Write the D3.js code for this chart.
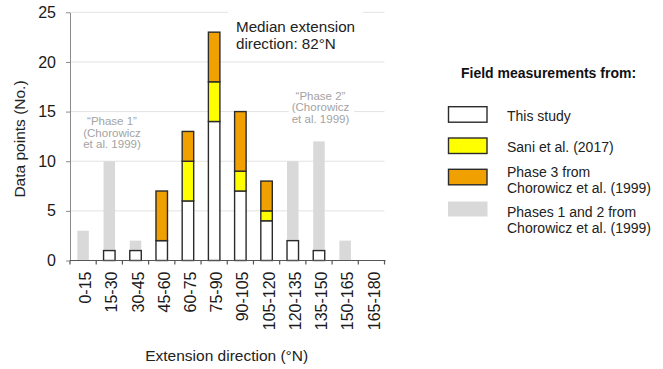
<!DOCTYPE html>
<html>
<head>
<meta charset="utf-8">
<script src="https://cdnjs.cloudflare.com/ajax/libs/d3/7.8.5/d3.min.js"></script>
<style>
  body { margin: 0; background: #fff; }
  svg { display: block; font-family: "Liberation Sans", Arial, sans-serif; }
</style>
</head>
<body>
<div id="chart"></div>
<script>
var categories = ["0-15", "15-30", "30-45", "45-60", "60-75", "75-90", "90-105",
                  "105-120", "120-135", "135-150", "150-165", "165-180"];
var thisStudy = [0, 1, 1, 2, 6, 14, 7, 4, 2, 1, 0, 0];
var sani2017  = [0, 0, 0, 0, 4, 4, 2, 1, 0, 0, 0, 0];
var phase3    = [0, 0, 0, 5, 3, 5, 6, 3, 0, 0, 0, 0];
var phases12  = [3, 10, 2, 0, 0, 0, 0, 0, 10, 12, 2, 0];
var yTicks = [0, 5, 10, 15, 20, 25];

var width = 663, height = 369;
var plotLeft = 70, plotRight = 384.5, plotTop = 12.3, plotBottom = 260.5;

var svg = d3.select("#chart").append("svg")
    .attr("width", width)
    .attr("height", height);

svg.append("rect").attr("width", width).attr("height", height).attr("fill", "#fff");

var x = d3.scaleBand().domain(categories).range([plotLeft, plotRight]).padding(0);
var y = d3.scaleLinear().domain([0, 25]).range([plotBottom, plotTop]);
var barW = 11.5;

// grid
svg.append("g").selectAll("line")
    .data(yTicks.filter(function(d){ return d > 0; }))
    .enter().append("line")
    .attr("x1", plotLeft).attr("x2", plotRight)
    .attr("y1", function(d){ return y(d); })
    .attr("y2", function(d){ return y(d); })
    .style("stroke", "#e3e3e3")
    .style("stroke-width", 1);

// white boxes behind annotations
svg.append("rect").attr("x", 228).attr("y", 8).attr("width", 135).attr("height", 48).attr("fill", "#fff");
svg.append("rect").attr("x", 289).attr("y", 90).attr("width", 65).attr("height", 37).attr("fill", "#fff");

// grey phases 1 and 2 bars (behind)
svg.append("g").selectAll("rect")
    .data(categories.map(function(c, i){ return {cat: c, v: phases12[i]}; }).filter(function(d){ return d.v > 0; }))
    .enter().append("rect")
    .attr("x", function(d){ return x(d.cat) + x.bandwidth() / 2 - barW / 2; })
    .attr("y", function(d){ return y(d.v); })
    .attr("width", barW)
    .attr("height", function(d){ return y(0) - y(d.v); })
    .style("fill", "#d9d9d9");

// stacked bars
var rows = categories.map(function(c, i){
	return {cat: c, study: thisStudy[i], sani: sani2017[i], p3: phase3[i]};
});
var keys = ["study", "sani", "p3"];
var colors = {study: "#ffffff", sani: "#ffff00", p3: "#f0a000"};
var stacked = d3.stack().keys(keys)(rows);

stacked.forEach(function(layer){
	svg.append("g").selectAll("rect")
		.data(layer.filter(function(d){ return d[1] - d[0] > 0; }))
		.enter().append("rect")
		.attr("x", function(d){ return x(d.data.cat) + x.bandwidth() / 2 - barW / 2; })
		.attr("y", function(d){ return y(d[1]); })
		.attr("width", barW)
		.attr("height", function(d){ return y(d[0]) - y(d[1]); })
		.style("fill", colors[layer.key])
		.style("stroke", "#2b2b2b")
		.style("stroke-width", 1.4);
});

// y axis
var yAxis = svg.append("g")
    .attr("transform", "translate(" + plotLeft + ",0)")
    .call(d3.axisLeft(y).tickValues(yTicks).tickSize(4).tickSizeOuter(0).tickPadding(10));
yAxis.select(".domain").style("stroke", "#8a8a8a");
yAxis.selectAll(".tick line").style("stroke", "#8a8a8a");
yAxis.selectAll("text")
    .style("font-size", "16px")
    .style("fill", "#1a1a1a")
    .style("font-family", "'Liberation Sans', Arial, sans-serif");

// x axis
var xAxis = svg.append("g");
xAxis.append("line")
    .attr("x1", plotLeft).attr("x2", plotRight + 1)
    .attr("y1", plotBottom).attr("y2", plotBottom)
    .style("stroke", "#555").style("stroke-width", 1.2);
var bounds = categories.map(function(c){ return x(c); }).concat([x(categories[categories.length - 1]) + x.bandwidth()]);
xAxis.selectAll("line.tk")
    .data(bounds).enter().append("line")
    .attr("class", "tk")
    .attr("x1", function(d){ return d; }).attr("x2", function(d){ return d; })
    .attr("y1", plotBottom).attr("y2", plotBottom + 4)
    .style("stroke", "#555").style("stroke-width", 1.2);
xAxis.selectAll("text")
    .data(categories).enter().append("text")
    .attr("transform", function(d){
    	return "translate(" + (x(d) + x.bandwidth() / 2 + 2.5) + "," + (plotBottom + 11) + ") rotate(-90)";
    })
    .attr("text-anchor", "end")
    .attr("dy", "0.35em")
    .style("font-size", "16px")
    .style("fill", "#1a1a1a")
    .text(function(d){ return d; });

// axis titles
svg.append("text")
    .attr("x", 226.7).attr("y", 361)
    .attr("text-anchor", "middle")
    .style("font-size", "15.5px")
    .style("fill", "#222")
    .text("Extension direction (\u00B0N)");

svg.append("text")
    .attr("transform", "translate(25,139) rotate(-90)")
    .attr("text-anchor", "middle")
    .style("font-size", "15.5px")
    .style("fill", "#222")
    .text("Data points (No.)");

// median annotation
svg.append("text").attr("x", 236).attr("y", 32.3)
    .style("font-size", "15.2px").style("fill", "#222").text("Median extension");
svg.append("text").attr("x", 236).attr("y", 49.3)
    .style("font-size", "15.2px").style("fill", "#222").text("direction: 82\u00B0N");

// phase annotations
function phaseNote(cx, y0, label){
	var lines = ["\u201C" + label + "\u201D", "(Chorowicz", "et al. 1999)"];
	lines.forEach(function(t, i){
		svg.append("text")
			.attr("x", cx).attr("y", y0 + i * 11.7)
			.attr("text-anchor", "middle")
			.style("font-size", "11.5px")
			.style("fill", "#a3a3a3")
			.text(t);
	});
}
phaseNote(112, 125, "Phase 1");
phaseNote(320.5, 99.5, "Phase 2");

// legend
svg.append("text").attr("x", 461).attr("y", 78)
    .style("font-size", "14px").style("font-weight", "bold").style("fill", "#111")
    .text("Field measurements from:");

var legendItems = [
	{fill: "#ffffff", stroke: true, y: 106.7, lines: ["This study"], ty: 121},
	{fill: "#ffff00", stroke: true, y: 138, lines: ["Sani et al. (2017)"], ty: 151.5},
	{fill: "#f0a000", stroke: true, y: 169.3, lines: ["Phase 3 from", "Chorowicz et al. (1999)"], ty: 177.3},
	{fill: "#d9d9d9", stroke: false, y: 201.5, lines: ["Phases 1 and 2 from", "Chorowicz et al. (1999)"], ty: 216.7}
];
legendItems.forEach(function(it){
	svg.append("rect")
		.attr("x", it.stroke ? 448.5 : 448).attr("y", it.y)
		.attr("width", it.stroke ? 38.5 : 39.5).attr("height", it.stroke ? 15.5 : 15)
		.style("fill", it.fill)
		.style("stroke", it.stroke ? "#2b2b2b" : "none")
		.style("stroke-width", 1.4);
	it.lines.forEach(function(t, i){
		svg.append("text")
			.attr("x", 507).attr("y", it.ty + i * 16)
			.style("font-size", "14px").style("fill", "#222")
			.text(t);
	});
});
</script>
</body>
</html>
